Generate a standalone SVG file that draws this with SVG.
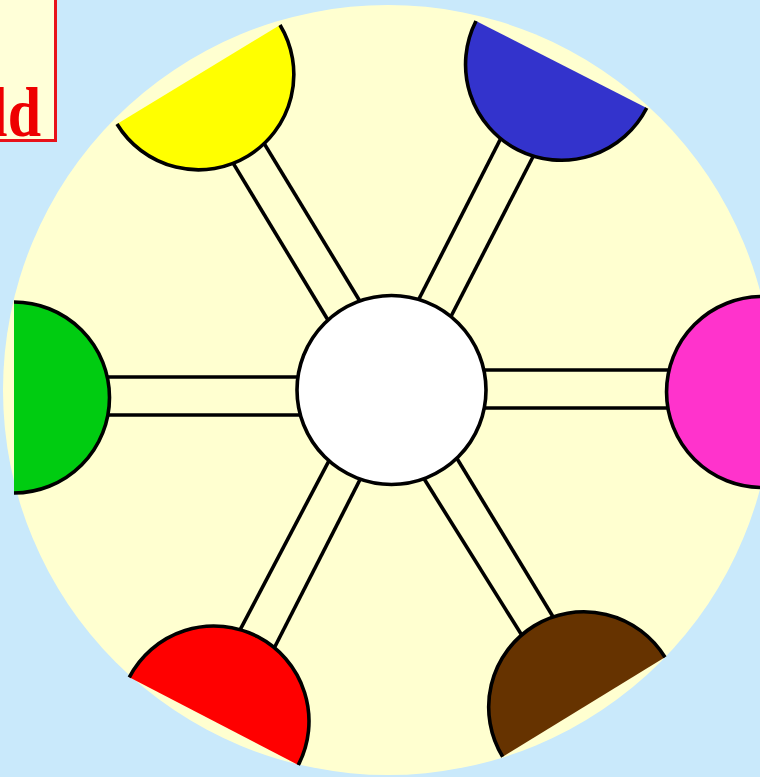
<svg xmlns="http://www.w3.org/2000/svg" width="760" height="777" viewBox="0 0 760 777">
<style>
.sp{stroke:#000;stroke-width:3.6;fill:none}
.hd{stroke:#000;stroke-width:3.6}
</style>
<rect x="0" y="0" width="760" height="777" fill="#c9e9fb"/>
<circle cx="388" cy="390" r="385" fill="#ffffd0"/>
<g id="label">
<rect x="-6" y="-6" width="61.5" height="146.5" fill="#ffffd8" stroke="#e8121a" stroke-width="3"/>
<text transform="scale(1,1.18)" x="41" y="115.5" text-anchor="end" font-family="'Liberation Serif', 'Times New Roman', serif" font-weight="bold" font-size="60" fill="#ee0000">ld</text>
</g>
<g id="connectors">
<line class="sp" x1="222.7" y1="145.9" x2="337" y2="335"/>
<line class="sp" x1="254.7" y1="127.9" x2="368.3" y2="315"/>
<line class="sp" x1="509" y1="122.2" x2="410.9" y2="314.8"/>
<line class="sp" x1="542" y1="139.2" x2="442.6" y2="332.8"/>
<line class="sp" x1="90" y1="377" x2="320" y2="377"/>
<line class="sp" x1="90" y1="415" x2="320" y2="415"/>
<line class="sp" x1="460" y1="370" x2="690" y2="370"/>
<line class="sp" x1="460" y1="408" x2="690" y2="408"/>
<line class="sp" x1="230.7" y1="647.7" x2="336" y2="447.3"/>
<line class="sp" x1="265.7" y1="664.7" x2="367.3" y2="465.3"/>
<line class="sp" x1="416.1" y1="466" x2="532.3" y2="652"/>
<line class="sp" x1="449.4" y1="446" x2="562.3" y2="632"/>
</g>
<g id="yellow"><path class="hd" fill="#ffff00" d="M117 124 A95 95 0 0 0 280 25"/></g>
<g id="blue"><path class="hd" fill="#3333cc" d="M476 21 A95 95 0 0 0 646.7 108"/></g>
<g id="green"><path class="hd" fill="#00cc11" d="M14 302 A95 95 0 0 1 14 493"/></g>
<g id="pink"><path class="hd" fill="#ff33cc" d="M762 296.5 A95 95 0 0 0 762 487.5"/></g>
<g id="red"><path class="hd" fill="#ff0000" d="M129.3 677.3 A95 95 0 0 1 298.3 765"/></g>
<g id="brown"><path class="hd" fill="#663300" d="M502.7 756.7 A95 95 0 0 1 665 657.3"/></g>
<g id="center"><circle cx="391.5" cy="390" r="94.5" fill="#ffffff" stroke="#000" stroke-width="3.6"/></g>
</svg>
